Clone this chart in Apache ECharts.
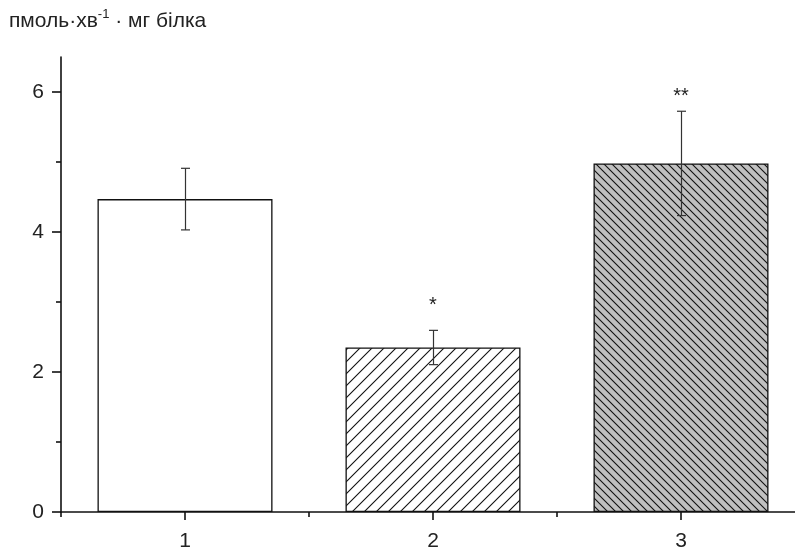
<!DOCTYPE html>
<html>
<head>
<meta charset="utf-8">
<script src="https://cdn.jsdelivr.net/npm/echarts@6/dist/echarts.min.js"></script>
<style>html,body{margin:0;padding:0;background:#fff}#c{width:795px;height:548px}</style>
</head>
<body>
<div id="c"></div>
<script>
// ---- data ----
const categories = ['1', '2', '3'];
const means = [4.47, 2.35, 4.98];
const errors = [0.44, 0.245, 0.745];
const marks = ['', '*', '**'];
const markValues = [null, 2.95, 5.93];
const yMajorTicks = [0, 2, 4, 6];
const yMinorTicks = [1, 3, 5];

function hatch(size, dir, bg, lw) {
  const c = document.createElement('canvas');
  c.width = size; c.height = size;
  const g = c.getContext('2d');
  g.fillStyle = bg; g.fillRect(0, 0, size, size);
  g.strokeStyle = '#111'; g.lineWidth = lw;
  g.beginPath();
  if (dir === '/') {
    g.moveTo(-1, size + 1); g.lineTo(size + 1, -1);
    g.moveTo(-2, 2); g.lineTo(2, -2);
    g.moveTo(size - 2, size + 2); g.lineTo(size + 2, size - 2);
  } else {
    g.moveTo(-1, -1); g.lineTo(size + 1, size + 1);
    g.moveTo(size - 2, -2); g.lineTo(size + 2, 2);
    g.moveTo(-2, size - 2); g.lineTo(2, size + 2);
  }
  g.stroke();
  return { image: c, repeat: 'repeat' };
}
const fills = ['#ffffff', hatch(12, '/', '#ffffff', 1.1), hatch(8, '\\', '#c0c0c0', 1.1)];

const font = 'Liberation Sans, Arial, sans-serif';
const chart = echarts.init(document.getElementById('c'), null, { renderer: 'canvas' });
chart.setOption({
  animation: false,
  backgroundColor: '#fff',
  title: {
    left: 9, top: 8, padding: 0,
    text: '{a|пмоль·хв}{s|-1}{a| · мг білка}',
    textStyle: {
      fontWeight: 'normal',
      rich: {
        a: { fontFamily: font, fontSize: 21, fontWeight: 'normal', color: '#222', lineHeight: 24, verticalAlign: 'bottom' },
        s: { fontFamily: font, fontSize: 13, fontWeight: 'normal', color: '#222', lineHeight: 24, verticalAlign: 'top' }
      }
    }
  },
  grid: { left: 61, width: 744, top: 57, bottom: 36, containLabel: false, outerBoundsMode: 'none' },
  xAxis: [
    {
      type: 'category', data: categories, boundaryGap: true,
      axisLine: { show: true, lineStyle: { color: '#111', width: 1.6 } },
      axisTick: { show: true, alignWithLabel: true, length: 8, lineStyle: { color: '#111', width: 1.6 } },
      axisLabel: { color: '#222', fontSize: 21, fontFamily: font, margin: 19 },
      splitLine: { show: false }
    },
    {
      type: 'category', data: categories, boundaryGap: true, position: 'bottom',
      axisLine: { show: false },
      axisTick: { show: true, length: 5, lineStyle: { color: '#111', width: 1.6 } },
      axisLabel: { show: false },
      splitLine: { show: false }
    }
  ],
  yAxis: [
    {
      type: 'value', min: 0, max: 6.5,
      axisLine: { show: true, lineStyle: { color: '#111', width: 1.6 } },
      axisTick: { show: true, length: 9, customValues: yMajorTicks, lineStyle: { color: '#111', width: 1.6 } },
      axisLabel: { color: '#222', fontSize: 21, fontFamily: font, margin: 17, customValues: yMajorTicks },
      splitLine: { show: false }
    },
    {
      type: 'value', min: 0, max: 6.5, position: 'left',
      axisLine: { show: false },
      axisTick: { show: true, length: 5, customValues: yMinorTicks, lineStyle: { color: '#111', width: 1.6 } },
      axisLabel: { show: false, customValues: yMinorTicks },
      splitLine: { show: false }
    }
  ],
  series: [
    {
      type: 'bar', xAxisIndex: 0, yAxisIndex: 0, barWidth: 175,
      data: means.map((v, i) => ({ value: v, itemStyle: { color: fills[i] } })),
      itemStyle: { borderColor: '#111', borderWidth: 1.3 },
      z: 2
    },
    {
      type: 'custom', xAxisIndex: 0, yAxisIndex: 0, z: 5,
      data: means.map((m, i) => [i, m - errors[i], m + errors[i]]),
      renderItem: function (params, api) {
        const lo = api.coord([api.value(0), api.value(1)]);
        const hi = api.coord([api.value(0), api.value(2)]);
        const x = Math.round(lo[0]) + 0.5;
        const st = { stroke: '#333', lineWidth: 1.2 };
        return {
          type: 'group', children: [
            { type: 'line', shape: { x1: x, y1: lo[1], x2: x, y2: hi[1] }, style: st },
            { type: 'line', shape: { x1: x - 4.5, y1: hi[1], x2: x + 4.5, y2: hi[1] }, style: st },
            { type: 'line', shape: { x1: x - 4.5, y1: lo[1], x2: x + 4.5, y2: lo[1] }, style: st }
          ]
        };
      }
    },
    {
      type: 'custom', xAxisIndex: 0, yAxisIndex: 0, z: 6,
      data: markValues.map((v, i) => [i, v == null ? 0 : v, marks[i]]),
      renderItem: function (params, api) {
        const i = params.dataIndex;
        if (!marks[i]) return null;
        const p = api.coord([api.value(0), api.value(1)]);
        return {
          type: 'text',
          style: {
            x: p[0], y: p[1], text: marks[i], textAlign: 'center', textVerticalAlign: 'middle',
            fontFamily: font, fontSize: 20, fill: '#222'
          }
        };
      }
    }
  ]
});
</script>
</body>
</html>
